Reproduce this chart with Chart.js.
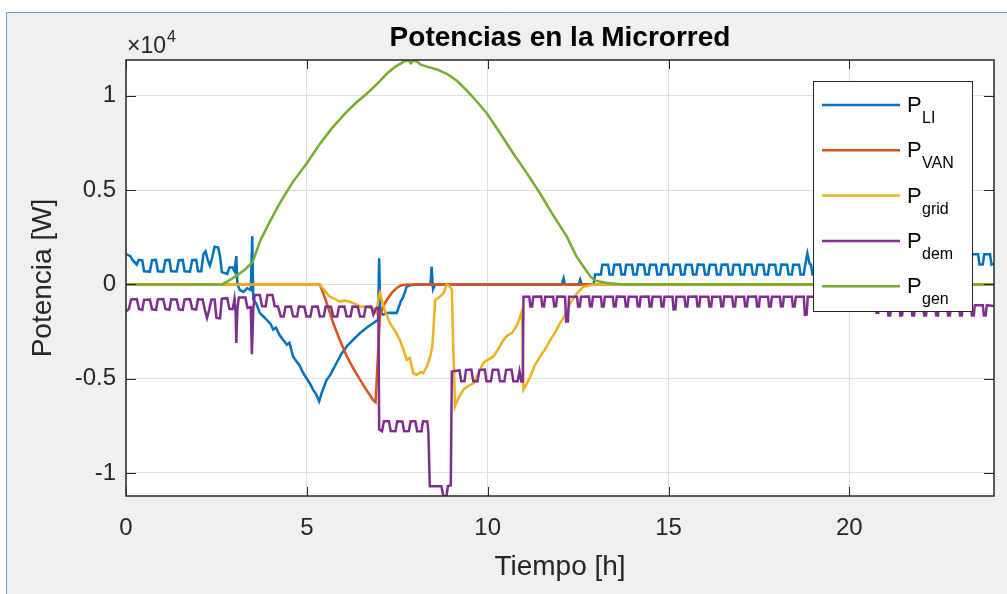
<!DOCTYPE html>
<html>
<head>
<meta charset="utf-8">
<script src="https://cdn.jsdelivr.net/npm/chart.js@4.4.1/dist/chart.umd.min.js"></script>
<style>
  html, body { margin: 0; padding: 0; background: #fff; }
  #wrap { width: 1007px; height: 594px; }
</style>
</head>
<body>
<div id="wrap"><canvas id="micro-chart" width="1007" height="594"></canvas></div>
<script>
const TITLE = 'Potencias en la Microrred';
const X_LABEL = 'Tiempo [h]';
const Y_LABEL = 'Potencia [W]';
const X_TICKS = [0, 5, 10, 15, 20];
const Y_TICKS = [-10000, -5000, 0, 5000, 10000];
const Y_EXPONENT = 4; // tick labels are shown in units of 10^4 W

const SERIES_SUB = ['LI', 'VAN', 'grid', 'dem', 'gen'];
const SERIES_COLORS = ['#0072BD', '#D95319', '#EDB120', '#7E2F8E', '#77AC30'];

// [hour, watts]
const pLI = [
  [0,1600],[0.12,1500],[0.18,1300],[0.3,1050],[0.35,1300],[0.45,1280],[0.5,700],[0.66,680],[0.72,1280],[0.83,1300],
  [0.88,700],[1.03,680],[1.09,1280],[1.2,1300],[1.25,700],[1.4,690],[1.46,1280],[1.57,1300],[1.62,700],[1.77,680],
  [1.83,1280],[1.94,1300],[1.99,700],[2.08,700],[2.14,1600],[2.2,1750],[2.26,1300],[2.32,1000],[2.38,1400],[2.45,2000],
  [2.55,1950],[2.6,1500],[2.65,650],[2.8,560],[2.86,900],[2.95,900],[3.0,700],[3.05,1500],[3.08,0],[3.15,-300],
  [3.25,-400],[3.35,-200],[3.45,-300],[3.49,2550],[3.52,-800],[3.6,-1000],[3.7,-1520],[3.8,-1700],[3.9,-1900],[4.0,-2100],
  [4.07,-2400],[4.15,-2300],[4.25,-2700],[4.34,-2940],[4.45,-3200],[4.52,-3100],[4.62,-3820],[4.72,-4100],[4.8,-4300],[4.9,-4700],
  [5.0,-5000],[5.1,-5300],[5.17,-5580],[5.25,-5800],[5.34,-6200],[5.42,-5700],[5.55,-5050],[5.65,-4800],[5.82,-4170],[5.95,-3700],
  [6.1,-3290],[6.3,-2900],[6.47,-2580],[6.65,-2300],[6.84,-2050],[6.97,-1880],[7.0,1390],[7.03,-1500],[7.12,-1600],[7.21,-1520],
  [7.35,-1500],[7.48,-1520],[7.6,-900],[7.67,-650],[7.76,-120],[7.85,-50],[8.0,0],[8.42,0],[8.45,940],[8.49,-250],
  [8.55,0],[12.05,0],[12.1,330],[12.14,0],[12.52,0],[12.56,250],[12.6,0],[12.93,0],[12.97,530],
  [13.13,530],[13.17,1040],[13.33,1040],[13.37,530],[13.46,530],[13.50,1040],[13.66,1050],[13.70,530],
  [13.79,530],[13.83,1040],[13.99,1040],[14.03,530],[14.12,530],[14.16,1050],[14.32,1040],[14.36,530],
  [14.45,530],[14.49,1040],[14.65,1040],[14.69,530],[14.78,530],[14.82,1040],[14.98,1050],[15.02,530],
  [15.11,530],[15.15,1040],[15.31,1040],[15.35,530],[15.44,530],[15.48,1040],[15.64,1040],[15.68,530],
  [15.77,530],[15.81,1050],[15.97,1040],[16.01,530],[16.10,530],[16.14,1040],[16.30,1040],[16.34,530],
  [16.43,530],[16.47,1040],[16.63,1050],[16.67,530],[16.76,530],[16.80,1040],[16.96,1040],[17.00,530],
  [17.09,530],[17.13,1050],[17.29,1040],[17.33,530],[17.42,530],[17.46,1040],[17.62,1040],[17.66,530],
  [17.75,530],[17.79,1040],[17.95,1040],[17.99,530],[18.08,530],[18.12,1050],[18.28,1040],[18.32,530],
  [18.41,530],[18.45,1040],[18.61,1040],[18.65,530],[18.74,530],[18.78,1040],[18.84,1650],[18.90,1100],[18.94,1040],[18.98,530],
  [19.07,530],[19.11,1040],[19.27,1040],[19.31,530],[19.40,530],[19.44,1040],[19.60,1040],[19.64,530],
  [19.73,530],[19.77,1040],[19.93,1040],[19.97,530],[20.06,600],[20.10,1120],[20.26,1120],[20.30,650],
  [20.39,700],[20.43,1250],[20.59,1250],[20.63,800],[20.72,850],[20.76,1400],[20.92,1400],[20.96,950],
  [21.05,1050],[21.09,1600],[21.25,1600],[21.29,1050],[21.38,1050],[21.42,1600],[21.58,1590],[21.62,1050],
  [21.71,1050],[21.75,1600],[21.91,1600],[21.95,1050],[22.04,1050],[22.08,1600],[22.24,1600],[22.28,1050],
  [22.37,1050],[22.41,1590],[22.57,1600],[22.61,1050],[22.70,1050],[22.74,1600],[22.90,1600],[22.94,1050],
  [23.03,1050],[23.07,1600],[23.23,1600],[23.27,1050],[23.36,1050],[23.40,1600],[23.56,1600],[23.60,1050],
  [23.69,1050],[23.73,1600],[23.89,1600],[23.93,1050],[24,1100]
];

const pVAN = [
  [0,0],[5.36,0],[5.5,-700],[5.73,-2050],[5.9,-2900],[6.1,-3800],[6.3,-4500],[6.47,-5050],[6.65,-5600],[6.84,-6150],
  [6.9,-6250],[6.96,-4000],[7.02,-1700],[7.12,-1150],[7.21,-820],[7.35,-450],[7.48,-200],[7.6,-60],[7.76,0],[24,0]
];

const pGrid = [
  [0,0],[5.36,0],[5.5,-350],[5.64,-650],[5.8,-800],[5.91,-910],[6.05,-850],[6.19,-920],[6.35,-1050],[6.47,-1170],
  [6.65,-1200],[6.84,-1270],[6.93,-1520],[6.98,-700],[7.02,-450],[7.08,-900],[7.18,-1500],[7.3,-2050],[7.45,-2500],[7.57,-2940],
  [7.68,-3500],[7.76,-4000],[7.85,-3900],[7.94,-4700],[8.04,-4790],[8.15,-4650],[8.22,-4700],[8.33,-4300],[8.41,-3820],[8.47,-3300],
  [8.5,-2400],[8.55,-820],[8.65,-700],[8.78,-470],[8.87,0],[8.95,-100],[9.01,-290],[9.05,-3460],[9.1,-6460],[9.2,-6000],
  [9.33,-5580],[9.45,-5400],[9.61,-5230],[9.75,-4700],[9.88,-4170],[10.0,-4000],[10.16,-3820],[10.3,-3400],[10.44,-2940],[10.55,-2700],
  [10.67,-2580],[10.8,-2200],[10.9,-1700],[10.95,-1400],[10.99,-5580],[11.1,-5200],[11.18,-4880],[11.3,-4300],[11.45,-3820],[11.6,-3400],
  [11.73,-2940],[11.85,-2600],[12.0,-2050],[12.15,-1600],[12.28,-1000],[12.47,-470],[12.65,-120],[12.93,0],[24,0]
];

const pDem = [
  [0,-1440],[0.08,-1300],[0.14,-800],[0.3,-780],[0.36,-1300],[0.45,-1350],[0.5,-820],[0.66,-800],[0.72,-1320],[0.83,-1350],
  [0.88,-800],[1.03,-780],[1.09,-1300],[1.2,-1340],[1.25,-790],[1.4,-800],[1.46,-1320],[1.57,-1350],[1.62,-800],[1.77,-780],
  [1.83,-1300],[1.94,-1330],[1.99,-790],[2.12,-800],[2.18,-1350],[2.24,-1780],[2.3,-1350],[2.36,-800],[2.45,-800],[2.5,-1780],
  [2.6,-1800],[2.65,-760],[2.8,-730],[2.86,-1300],[2.95,-1300],[3.0,-760],[3.03,-1400],[3.05,-3100],[3.08,-1300],[3.12,-700],
  [3.3,-700],[3.36,-1250],[3.45,-1200],[3.48,-3700],[3.52,-1300],[3.56,-560],[3.7,-560],[3.76,-1150],[3.86,-1170],[3.91,-560],
  [4.05,-560],[4.11,-1150],[4.2,-1170],[4.28,-1700],[4.36,-1700],[4.41,-1180],[4.56,-1170],[4.62,-1690],[4.73,-1700],[4.78,-1170],
  [4.93,-1180],[4.99,-1700],[5.1,-1700],[5.15,-1180],[5.3,-1170],[5.36,-1700],[5.47,-1690],[5.52,-1170],[5.67,-1180],[5.73,-1700],
  [5.84,-1700],[5.89,-1180],[6.04,-1170],[6.1,-1700],[6.21,-1690],[6.26,-1170],[6.41,-1180],[6.47,-1700],[6.58,-1700],[6.63,-1180],
  [6.78,-1170],[6.84,-1600],[6.92,-1250],[6.98,-1250],[7.0,-7700],[7.08,-7790],[7.13,-7260],[7.27,-7260],[7.32,-7780],[7.45,-7790],
  [7.5,-7260],[7.64,-7270],[7.69,-7790],[7.82,-7780],[7.87,-7260],[8.0,-7260],[8.05,-7790],[8.17,-7790],[8.21,-7260],[8.33,-7270],
  [8.36,-7800],[8.4,-10700],[8.72,-10700],[8.78,-11250],[8.86,-11250],[8.9,-10700],[8.98,-10650],[9.01,-4620],[9.22,-4550],[9.27,-5140],
  [9.36,-5140],[9.4,-4530],[9.55,-4520],[9.6,-5130],[9.72,-5140],[9.77,-4530],[9.92,-4520],[9.97,-5140],[10.09,-5140],[10.14,-4530],
  [10.29,-4530],[10.34,-5130],[10.46,-5140],[10.51,-4530],[10.66,-4520],[10.71,-5140],[10.83,-5140],[10.88,-4600],[10.93,-5150],[10.97,-5150],
  [10.99,-650],
  [11.15,-650],[11.18,-1170],[11.23,-1170],[11.26,-650],[11.48,-640],[11.51,-1160],[11.56,-1170],[11.59,-650],
  [11.81,-650],[11.84,-1170],[11.89,-1160],[11.92,-640],[12.14,-650],[12.17,-1970],[12.22,-1960],[12.25,-650],
  [12.47,-650],[12.50,-1170],[12.55,-1170],[12.58,-650],[12.80,-640],[12.83,-1160],[12.88,-1170],[12.91,-650],
  [13.13,-650],[13.16,-1170],[13.21,-1170],[13.24,-650],[13.46,-650],[13.49,-1170],[13.54,-1160],[13.57,-640],
  [13.79,-650],[13.82,-1170],[13.87,-1170],[13.90,-650],[14.12,-650],[14.15,-1160],[14.20,-1170],[14.23,-650],
  [14.45,-640],[14.48,-1170],[14.53,-1170],[14.56,-650],[14.78,-650],[14.81,-1170],[14.86,-1170],[14.89,-650],
  [15.11,-650],[15.14,-1330],[15.19,-1320],[15.22,-650],[15.44,-650],[15.47,-1170],[15.52,-1170],[15.55,-650],
  [15.77,-640],[15.80,-1160],[15.85,-1170],[15.88,-650],[16.10,-650],[16.13,-1170],[16.18,-1170],[16.21,-650],
  [16.43,-650],[16.46,-1170],[16.51,-1160],[16.54,-640],[16.76,-650],[16.79,-1170],[16.84,-1170],[16.87,-650],
  [17.09,-650],[17.12,-1160],[17.17,-1170],[17.20,-650],[17.42,-640],[17.45,-1170],[17.50,-1170],[17.53,-650],
  [17.75,-650],[17.78,-1170],[17.83,-1170],[17.86,-650],[18.08,-650],[18.11,-1170],[18.16,-1160],[18.19,-650],
  [18.41,-650],[18.44,-1170],[18.49,-1170],[18.52,-650],[18.74,-650],[18.77,-1610],[18.82,-1600],[18.85,-650],
  [19.07,-650],[19.10,-1170],[19.15,-1170],[19.18,-650],[19.40,-650],[19.43,-1170],[19.48,-1170],[19.51,-650],
  [19.73,-650],[19.76,-1170],[19.81,-1170],[19.84,-650],[20.06,-700],[20.09,-1250],[20.14,-1250],[20.17,-750],
  [20.39,-800],[20.42,-1350],[20.47,-1350],[20.50,-900],[20.72,-950],[20.75,-1500],[20.80,-1500],[20.83,-1050],
  [21.05,-1100],[21.08,-1650],[21.13,-1650],[21.16,-1100],[21.38,-1100],[21.41,-1650],[21.46,-1640],[21.49,-1100],
  [21.71,-1100],[21.74,-1650],[21.79,-1650],[21.82,-1100],[22.04,-1100],[22.07,-1650],[22.12,-1650],[22.15,-1100],
  [22.37,-1100],[22.40,-1640],[22.45,-1650],[22.48,-1100],[22.70,-1100],[22.73,-1650],[22.78,-1650],[22.81,-1100],
  [23.03,-1100],[23.06,-1650],[23.11,-1650],[23.14,-1100],[23.36,-1100],[23.39,-1650],[23.44,-1650],[23.47,-1100],
  [23.69,-1100],[23.72,-1650],[23.77,-1650],[23.80,-1100],[24,-1150]
];

const pGen = [
  [0,0],[2.65,0],[2.8,150],[3.05,450],[3.3,800],[3.5,1200],[3.72,2350],[3.97,3300],[4.25,4300],[4.6,5400],
  [4.99,6400],[5.36,7450],[5.7,8300],[6.1,9150],[6.4,9700],[6.65,10100],[6.95,10650],[7.21,11170],[7.45,11550],[7.67,11800],
  [7.8,11900],[7.88,11720],[7.95,11880],[8.05,11800],[8.15,11650],[8.32,11550],[8.6,11400],[8.87,11170],[9.15,10800],[9.42,10290],
  [9.7,9700],[9.98,9060],[10.35,8000],[10.71,6940],[11.1,5850],[11.45,4820],[11.8,3700],[12.19,2530],[12.45,1500],[12.65,940],
  [12.85,400],[12.98,200],[13.3,80],[13.76,0],[24,0]
];

const SERIES_DATA = [pLI, pVAN, pGrid, pDem, pGen];

const FONT = '"Liberation Sans", Arial, Helvetica, sans-serif';
const INK = '#262626';

// MATLAB-style figure: grey window, boxed axes with inward ticks, exponent label and a
// boxed legend with subscripts (the built-in legend can't do subscripts).
const matlabFigure = {
  id: 'matlabFigure',
  beforeDraw(chart) {
    const { ctx, width, height, chartArea: a } = chart;
    ctx.save();
    ctx.fillStyle = '#ffffff';
    ctx.fillRect(0, 0, width, height);
    ctx.fillStyle = '#f0f0f0';
    ctx.fillRect(7, 13, width - 7, height - 13);
    ctx.strokeStyle = '#6b9bd6';
    ctx.lineWidth = 1;
    ctx.beginPath();
    ctx.moveTo(6.5, height);
    ctx.lineTo(6.5, 12.5);
    ctx.lineTo(width, 12.5);
    ctx.stroke();
    ctx.fillStyle = '#ffffff';
    ctx.fillRect(a.left, a.top, a.right - a.left, a.bottom - a.top);
    ctx.restore();
  },
  afterDraw(chart) {
    const { ctx, chartArea: a } = chart;
    const xs = chart.scales.x, ys = chart.scales.y;
    const seg = (x1, y1, x2, y2) => { ctx.beginPath(); ctx.moveTo(x1, y1); ctx.lineTo(x2, y2); ctx.stroke(); };
    ctx.save();

    ctx.strokeStyle = INK;
    ctx.lineWidth = 1;
    xs.ticks.forEach(t => {
      const px = Math.round(xs.getPixelForValue(t.value)) + 0.5;
      seg(px, a.bottom, px, a.bottom - 9);
      seg(px, a.top, px, a.top + 9);
    });
    ys.ticks.forEach(t => {
      const py = Math.round(ys.getPixelForValue(t.value)) + 0.5;
      seg(a.left, py, a.left + 10, py);
      seg(a.right, py, a.right - 10, py);
    });
    ctx.lineWidth = 1.5;
    ctx.strokeRect(a.left, a.top, a.right - a.left, a.bottom - a.top);

    ctx.fillStyle = '#000';
    ctx.textAlign = 'center';
    ctx.textBaseline = 'alphabetic';
    ctx.font = `bold 28px ${FONT}`;
    ctx.fillText(TITLE, (a.left + a.right) / 2, 46);

    ctx.fillStyle = INK;
    ctx.textAlign = 'left';
    ctx.font = `23px ${FONT}`;
    ctx.fillText('\u00d710', a.left + 1, 53);
    const w = ctx.measureText('\u00d710').width;
    ctx.font = `16px ${FONT}`;
    ctx.fillText(String(Y_EXPONENT), a.left + 2 + w, 42);

    // legend
    const lx = 813.5, ly = 81.5, lw = 159, lh = 230;
    ctx.fillStyle = '#ffffff';
    ctx.fillRect(lx, ly, lw, lh);
    ctx.strokeStyle = INK;
    ctx.lineWidth = 1;
    ctx.strokeRect(lx, ly, lw, lh);
    SERIES_SUB.forEach((sub, i) => {
      const y = 105 + i * 45.3;
      ctx.strokeStyle = SERIES_COLORS[i];
      ctx.lineWidth = 2.5;
      seg(822, y, 900, y);
      ctx.fillStyle = '#000';
      ctx.font = `22px ${FONT}`;
      ctx.fillText('P', 907, y + 7);
      ctx.font = `16px ${FONT}`;
      ctx.fillText(sub, 922, y + 18);
    });
    ctx.restore();
  }
};

new Chart(document.getElementById('micro-chart'), {
  type: 'line',
  data: {
    datasets: SERIES_DATA.map((d, i) => ({
      label: 'P_' + SERIES_SUB[i],
      data: d,
      borderColor: SERIES_COLORS[i],
      backgroundColor: SERIES_COLORS[i],
      borderWidth: 2.5,
      pointRadius: 0,
      tension: 0,
      fill: false,
      order: SERIES_DATA.length - i
    }))
  },
  options: {
    responsive: false,
    animation: false,
    devicePixelRatio: 1,
    layout: { padding: { top: 60, right: 13, left: 0, bottom: 0 } },
    plugins: {
      legend: { display: false },
      title: { display: false },
      tooltip: { enabled: false }
    },
    scales: {
      x: {
        type: 'linear', min: 0, max: 24,
        afterFit: s => { s.height = 98; },
        afterBuildTicks: s => { s.ticks = X_TICKS.map(v => ({ value: v })); },
        border: { display: false },
        grid: { color: '#dedede', drawTicks: false },
        ticks: { padding: 18, maxRotation: 0, autoSkip: false, color: INK, font: { family: FONT, size: 24 } },
        title: { display: true, text: X_LABEL, color: INK, font: { family: FONT, size: 28 }, padding: { top: 0, bottom: 10 } }
      },
      y: {
        type: 'linear', min: -11220, max: 11900,
        afterFit: s => { s.width = 126; },
        afterBuildTicks: s => { s.ticks = Y_TICKS.map(v => ({ value: v })); },
        border: { display: false },
        grid: { color: '#dedede', drawTicks: false },
        ticks: {
          padding: 10, autoSkip: false, color: INK, font: { family: FONT, size: 24 },
          callback: v => String(v / Math.pow(10, Y_EXPONENT))
        },
        title: { display: true, text: Y_LABEL, color: INK, font: { family: FONT, size: 28 }, padding: { top: 26, bottom: 0 } }
      }
    }
  },
  plugins: [matlabFigure]
});
</script>
</body>
</html>
